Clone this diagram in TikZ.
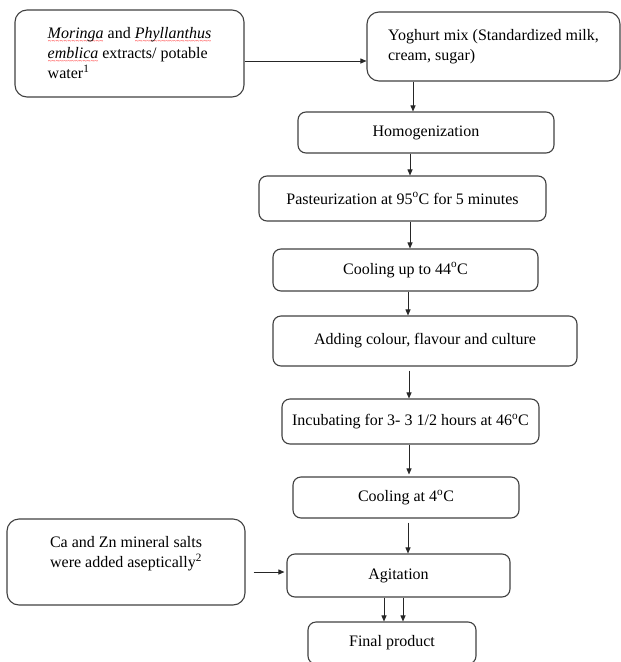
\documentclass[tikz,border=0pt]{standalone}
\usepackage{fontspec}
\setmainfont{Liberation Serif}
\usetikzlibrary{arrows.meta}
\newsavebox\spellbox
\newcommand\spellwave[1]{\sbox\spellbox{#1}\rlap{\raisebox{-5pt}{\color{red}\fontsize{7}{7}\selectfont
  \hbox to\wd\spellbox{\xleaders\hbox{\char"7E}\hfil}}}\usebox\spellbox}
\begin{document}
\begin{tikzpicture}[x=1pt,y=-1pt,
    stepbox/.style={draw=black!75, line width=1.1pt, rounded corners=8pt, inner sep=0pt,
      align=center, font=\fontsize{16}{20}\selectfont},
    flow/.style={draw=black!85, line width=0.9pt, -{Triangle[length=6pt,width=5pt]}}]
  \useasboundingbox (0,0) rectangle (621,662);
  \node[stepbox, rounded corners=12pt, align=left, minimum width=229pt, minimum height=87pt] (extract) at (129.5,53.5)
    {\spellwave{\textit{Moringa}} and \spellwave{\textit{Phyllanthus}}\\
     \spellwave{\textit{emblica}} extracts/ potable\\
     water\textsuperscript{1}};
  \node[stepbox, rounded corners=12pt, align=left, minimum width=253pt, minimum height=69pt] (yoghurt) at (493.5,46.5)
    {Yoghurt mix (Standardized milk,\\ cream, sugar)};
  \node[stepbox, minimum width=256pt, minimum height=41pt] (homog) at (426,132.5) {Homogenization};
  \node[stepbox, minimum width=287pt, minimum height=45pt] (pasteur) at (402.5,198.5)
    {Pasteurization at 95\textsuperscript{o}C for 5 minutes};
  \node[stepbox, minimum width=265pt, minimum height=42pt] (cool44) at (405.5,270) {Cooling up to 44\textsuperscript{o}C};
  \node[stepbox, minimum width=304pt, minimum height=50pt] (adding) at (425,341) {Adding colour, flavour and culture};
  \node[stepbox, minimum width=257pt, minimum height=45pt] (incub) at (410.5,421.5)
    {Incubating for 3- 3 1/2 hours at 46\textsuperscript{o}C};
  \node[stepbox, minimum width=226pt, minimum height=41pt] (cool4) at (406,497.5) {Cooling at 4\textsuperscript{o}C};
  \node[stepbox, rounded corners=12pt, minimum width=238pt, minimum height=86pt] (salts) at (126,562)
    {Ca and Zn mineral salts\\ were added aseptically\textsuperscript{2}\\ \mbox{}};
  \node[stepbox, minimum width=223pt, minimum height=43pt] (agitation) at (398.5,575.5) {Agitation};
  \node[stepbox, minimum width=168pt, minimum height=42pt] (final) at (392,643) {Final product};

  \draw[flow] (extract.east |- 0,61) -- (yoghurt.west |- 0,61);
  \draw[flow] (yoghurt.south -| 413,0) -- (homog.north -| 413,0);
  \draw[flow] (homog.south -| 410,0) -- (pasteur.north -| 410,0);
  \draw[flow] (pasteur.south -| 410,0) -- (cool44.north -| 410,0);
  \draw[flow] (cool44.south -| 408,0) -- (adding.north -| 408,0);
  \draw[flow, shorten <=4pt] (adding.south -| 409,0) -- (incub.north -| 409,0);
  \draw[flow, shorten >=2pt] (incub.south -| 409,0) -- (cool4.north -| 409,0);
  \draw[flow, shorten <=4pt] (cool4.south -| 408,0) -- (agitation.north -| 408,0);
  \draw[flow, shorten <=8pt, shorten >=2pt] (salts.east |- 0,572) -- (agitation.west |- 0,572);
  \draw[flow] (agitation.south -| 384,0) -- (final.north -| 384,0);
  \draw[flow] (agitation.south -| 403,0) -- (final.north -| 403,0);
\end{tikzpicture}
\end{document}
